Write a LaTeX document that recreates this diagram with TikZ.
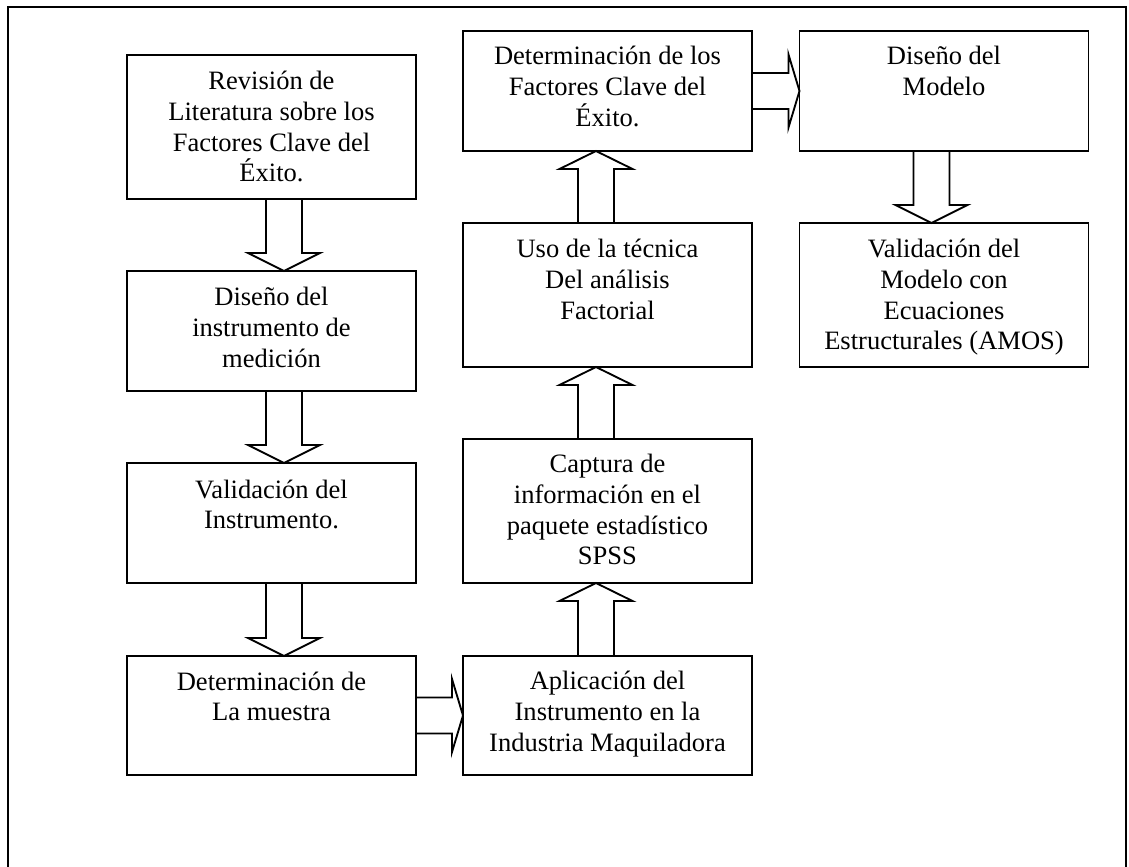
\documentclass[tikz,border=0pt]{standalone}
\usepackage{fontspec}
\setmainfont{Liberation Serif}
\usetikzlibrary{calc}

% block arrows drawn between two stage boxes
% #1 upper box, #2 lower box, #3 horizontal offset of the arrow axis
\newcommand{\flowdown}[3]{%
  \draw[blockarrow] ($(#1.south)+(#3-18,0)$) -- ($(#2.north)+(#3-18,-18)$)
    -- ($(#2.north)+(#3-36,-18)$) -- ($(#2.north)+(#3,0)$)
    -- ($(#2.north)+(#3+36,-18)$) -- ($(#2.north)+(#3+18,-18)$)
    -- ($(#1.south)+(#3+18,0)$);}
% #1 lower box, #2 upper box, #3 horizontal offset of the arrow axis
\newcommand{\flowup}[3]{%
  \draw[blockarrow] ($(#1.north)+(#3-18,0)$) -- ($(#2.south)+(#3-18,18)$)
    -- ($(#2.south)+(#3-36.5,18)$) -- ($(#2.south)+(#3,0)$)
    -- ($(#2.south)+(#3+36.5,18)$) -- ($(#2.south)+(#3+18,18)$)
    -- ($(#1.north)+(#3+18,0)$);}
% #1 left box, #2 right box
\newcommand{\flowright}[2]{%
  \draw[blockarrow] ($(#1.east)+(0,-18)$) -- ($(#2.west)+(-11,-18)$)
    -- ($(#2.west)+(-11,-36.5)$) -- (#2.west)
    -- ($(#2.west)+(-11,36.5)$) -- ($(#2.west)+(-11,18)$)
    -- ($(#1.east)+(0,18)$);}

\tikzset{
  stage/.style={draw, line width=1.4pt, inner sep=0pt, outer sep=0pt,
    minimum width=216.75pt, minimum height=#1},
  caption/.style={align=center, anchor=base, inner sep=0pt,
    font=\fontsize{19.9}{22.9}\selectfont},
  blockarrow/.style={line width=1.4pt, line join=miter},
  frame/.style={line width=1.4pt}
}

\begin{document}
\begin{tikzpicture}[x=0.75pt, y=-0.75pt]
\useasboundingbox (0,0) rectangle (1129,867);

% page frame, open at the bottom
\draw[frame] (8,880) -- (8,7) -- (1126,7) -- (1126,880);

% first column
\node[stage=108pt]   (lit)   at (271.5,127)   {};
\node[stage=90pt]    (dis)   at (271.5,331)   {};
\node[stage=90pt]    (val)   at (271.5,523)   {};
\node[stage=89.25pt] (mue)   at (271.5,715.5) {};
% second column
\node[stage=89.25pt] (apl)   at (607.5,715.5) {};
\node[stage=108pt]   (cap)   at (607.5,511)   {};
\node[stage=108pt]   (uso)   at (607.5,295)   {};
\node[stage=90pt]    (fac)   at (607.5,91)    {};
% third column
\node[stage=90pt]    (mod)   at (944,91)      {};
\node[stage=108pt]   (amos)  at (944,295)     {};

% texts, top aligned in each box (placed by the baseline of the last line)
\node[caption] (tlit) at ($(lit.north)+(0,{35+3*30.53})$) {Revisión de\\Literatura sobre los\\Factores Clave del\\Éxito.};
\node[caption] (tdis) at ($(dis.north)+(0,{35+2*30.53})$) {Diseño del\\instrumento de\\medición};
\node[caption] (tval) at ($(val.north)+(0,{35+1*30.53})$) {Validación del\\Instrumento.};
\node[caption] (tmue) at ($(mue.north)+(0,{34+1*30.53})$) {Determinación de\\La muestra};
\node[caption] (tapl) at ($(apl.north)+(0,{34+2*30.53})$) {Aplicación del\\Instrumento en la\\Industria Maquiladora};
\node[caption] (tcap) at ($(cap.north)+(0,{34+3*30.53})$) {Captura de\\información en el\\paquete estadístico\\SPSS};
\node[caption] (tuso) at ($(uso.north)+(0,{35+2*30.53})$) {Uso de la técnica\\Del análisis\\Factorial};
\node[caption] (tfac) at ($(fac.north)+(0,{34+2*30.53})$) {Determinación de los\\Factores Clave del\\Éxito.};
\node[caption] (tmod) at ($(mod.north)+(0,{34+1*30.53})$) {Diseño del\\Modelo};
\node[caption] (tamos) at ($(amos.north)+(0,{35+3*30.53})$) {Validación del\\Modelo con\\Ecuaciones\\Estructurales (AMOS)};

% connectors
\flowdown{lit}{dis}{12.5}
\flowdown{dis}{val}{12.5}
\flowdown{val}{mue}{12.5}
\flowright{mue}{apl}
\flowup{apl}{cap}{-11.5}
\flowup{cap}{uso}{-11.5}
\flowup{uso}{fac}{-11.5}
\flowright{fac}{mod}
\flowdown{mod}{amos}{-12.5}
\end{tikzpicture}
\end{document}
